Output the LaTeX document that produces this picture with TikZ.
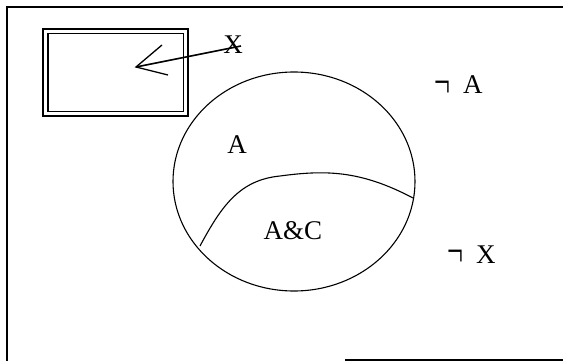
\documentclass[tikz,border=0pt]{standalone}
\usepackage{fontspec}
\setmainfont{Liberation Serif}
\usetikzlibrary{shapes.geometric}
\newcommand{\bignot}{\raisebox{-3pt}{\scalebox{1.05}[1.7]{¬}}}
\begin{document}
\begin{tikzpicture}[x=1pt,y=-1pt,
  lbl/.style={inner sep=0pt,font=\fontsize{27}{31}\selectfont},
  thin line/.style={line width=1.1pt}]
\useasboundingbox (0,0) rectangle (563,361);
% frame
\draw[line width=1.6pt] (563,7) -- (7,7) -- (7,361);
\draw[line width=1.6pt] (345,360) -- (563,360);
% double rectangle
\draw[line width=2pt] (43,29) rectangle (188,116);
\draw[line width=1.6pt] (48,33.5) rectangle (183.5,111.5);
% ellipse
\node[draw,thin line,ellipse,minimum width=242pt,minimum height=219pt,inner sep=0pt] (E) at (294,181.5) {};
% inner curve
\coordinate (c1) at (200,246);
\coordinate (c2) at (413,198);
\draw[thin line] (c1) .. controls (222,205) and (240,180) .. (280,176)
  .. controls (325,170) and (360,170) .. (c2);
% labels
\node[lbl] (X) at (233,45) {X};
\node[lbl] (A) at (237,145) {A};
\node[lbl] (AC) at (293,231) {A\&C};
\node[lbl,anchor=base west] (nA) at (434,94) {\bignot\hspace{13pt}A};
\node[lbl,anchor=base west] (nX) at (447,263) {\bignot\hspace{13pt}X};
% arrow
\coordinate (tip) at (136,67);
\coordinate (h1) at (162,45);
\coordinate (h2) at (168,75);
\draw[line width=1.6pt] (X.east) ++(-2,1) -- (tip);
\draw[line width=1.3pt] (h1) -- (tip) -- (h2);
\end{tikzpicture}
\end{document}
